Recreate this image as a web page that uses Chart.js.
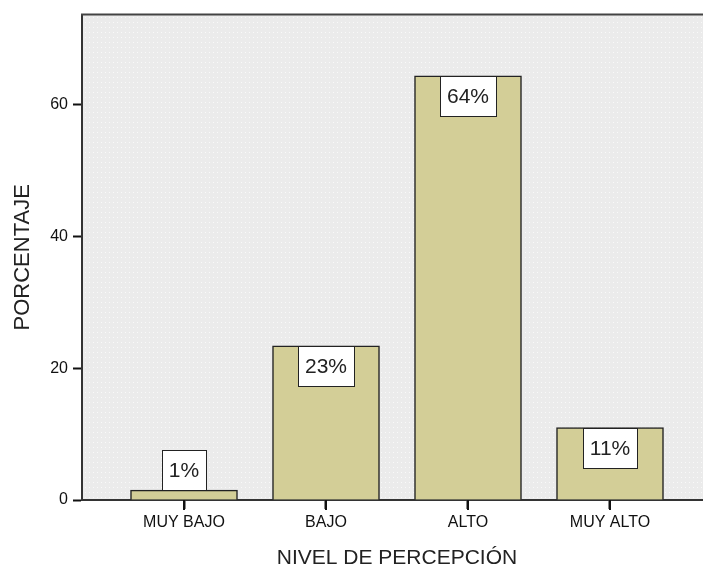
<!DOCTYPE html>
<html>
<head>
<meta charset="utf-8">
<script src="https://cdn.jsdelivr.net/npm/chart.js@4"></script>
<style>
  html, body { margin: 0; padding: 0; background: #fff; overflow: hidden; }
  #wrap { width: 712px; height: 570px; }
</style>
</head>
<body>
<div id="wrap"><canvas id="c" width="712" height="570"></canvas></div>
<script>
const categories = ['MUY BAJO', 'BAJO', 'ALTO', 'MUY ALTO'];
const percentValues = [1.5, 23.4, 64.4, 11.0];
const valueLabels = ['1%', '23%', '64%', '11%'];
const yTickValues = [0, 20, 40, 60];

const FONT = "'Liberation Sans', Arial, sans-serif";

// dotted gray plot background pattern
function makePattern(ctx) {
  const p = document.createElement('canvas');
  p.width = 4; p.height = 5;
  const pc = p.getContext('2d');
  pc.fillStyle = '#ebebeb';
  pc.fillRect(0, 0, 4, 5);
  pc.fillStyle = '#f9f9f9';
  pc.fillRect(1, 2, 1, 1);
  return ctx.createPattern(p, 'repeat');
}

const plotFrame = {
  id: 'plotFrame',
  beforeDraw(chart) {
    const {ctx, chartArea: a} = chart;
    ctx.save();
    ctx.fillStyle = makePattern(ctx);
    ctx.fillRect(a.left, a.top, a.right - a.left, a.bottom - a.top);
    ctx.restore();
  },
  afterDraw(chart) {
    const {ctx, chartArea: a} = chart;
    ctx.save();
    ctx.strokeStyle = '#444';
    ctx.lineWidth = 2;
    ctx.beginPath();
    ctx.moveTo(a.left - 1, a.top);
    ctx.lineTo(a.right, a.top);
    ctx.stroke();
    // category tick marks under the x axis, at the scale's tick positions
    const xs = chart.scales.x;
    ctx.strokeStyle = '#111';
    ctx.lineWidth = 2;
    xs.ticks.forEach((t, i) => {
      const px = Math.round(xs.getPixelForTick(i));
      ctx.beginPath();
      ctx.moveTo(px, a.bottom);
      ctx.lineTo(px, a.bottom + 10);
      ctx.stroke();
    });
    ctx.restore();
  }
};

const valueBoxes = {
  id: 'valueBoxes',
  afterDatasetsDraw(chart) {
    const {ctx} = chart;
    const meta = chart.getDatasetMeta(0);
    ctx.save();
    ctx.font = '21px ' + FONT;
    ctx.textAlign = 'center';
    ctx.textBaseline = 'middle';
    const boxH = 40, padX = 7;
    meta.data.forEach((bar, i) => {
      const txt = valueLabels[i];
      const w = Math.round(ctx.measureText(txt).width + 2 * padX);
      const barH = bar.base - bar.y;
      let top = bar.y;
      if (barH < boxH) top = bar.y - boxH;
      const left = Math.round(bar.x - w / 2) + 0.5;
      top = Math.round(top) + 0.5;
      ctx.fillStyle = '#ffffff';
      ctx.fillRect(left, top, w, boxH);
      ctx.strokeStyle = '#222';
      ctx.lineWidth = 1;
      ctx.strokeRect(left, top, w, boxH);
      ctx.fillStyle = '#222';
      ctx.fillText(txt, bar.x, top + boxH / 2 + 1);
    });
    ctx.restore();
  }
};

new Chart(document.getElementById('c'), {
  type: 'bar',
  data: {
    datasets: [{
      data: percentValues.map((v, i) => ({x: i + 1, y: v})),
      backgroundColor: 'rgb(211,206,151)',
      borderColor: '#222',
      borderWidth: 1.5,
      barThickness: 107
    }]
  },
  options: {
    responsive: false,
    animation: false,
    devicePixelRatio: 1,
    layout: { padding: { top: 13, right: 0, left: 0, bottom: 0 } },
    plugins: { legend: { display: false }, tooltip: { enabled: false } },
    scales: {
      x: {
        type: 'linear',
        offset: false,
        min: 1 - 102 / 142,
        max: categories.length + 102 / 142,
        afterBuildTicks(scale) {
          scale.ticks = categories.map((c, i) => ({ value: i + 1 }));
        },
        afterFit(scale) { scale.height = 70; },
        grid: { offset: false, drawOnChartArea: false, drawTicks: true, tickLength: 9, tickColor: '#111', tickWidth: 2 },
        border: { display: true, color: '#333', width: 2 },
        ticks: {
          autoSkip: false, maxRotation: 0, padding: 4,
          color: '#111', font: { family: FONT, size: 16 },
          callback: (v) => categories[Math.round(v) - 1]
        },
        title: {
          display: true, text: 'NIVEL DE PERCEPCIÓN', color: '#222',
          font: { family: FONT, size: 21, lineHeight: 1.1 },
          padding: { top: 0, bottom: 0 }
        }
      },
      y: {
        min: 0,
        max: 73.7,
        afterBuildTicks(scale) {
          scale.ticks = yTickValues.map(v => ({ value: v }));
        },
        afterFit(scale) { scale.width = 82; },
        grid: { drawOnChartArea: false, drawTicks: true, tickLength: 9, tickColor: '#111', tickWidth: 2 },
        border: { display: true, color: '#333', width: 2 },
        ticks: {
          padding: 5, color: '#111', font: { family: FONT, size: 16 }
        },
        title: {
          display: true, text: 'PORCENTAJE', color: '#222',
          font: { family: FONT, size: 22, lineHeight: 1.2 },
          padding: { top: 10, bottom: 0 }
        }
      }
    }
  },
  plugins: [plotFrame, valueBoxes]
});
</script>
</body>
</html>
